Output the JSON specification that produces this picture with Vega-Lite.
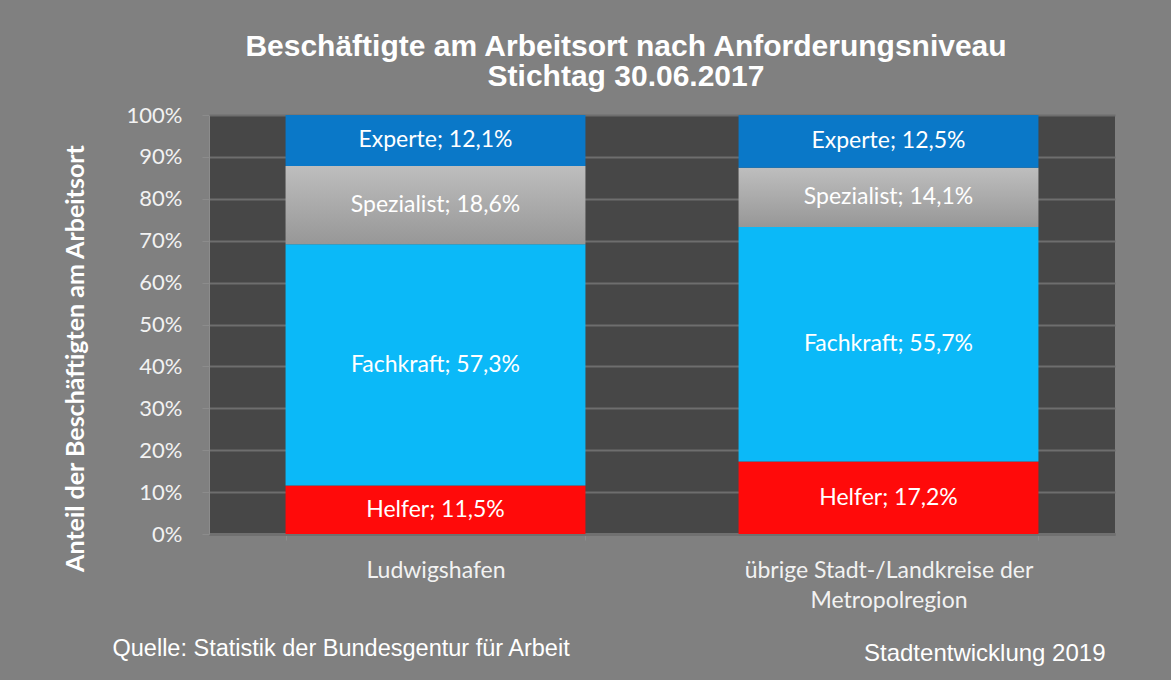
{
  "$schema": "https://vega.github.io/schema/vega-lite/v6.json",
  "width": 906,
  "height": 419,
  "autosize": {"type": "none"},
  "padding": {"left": 209, "top": 115, "right": 56, "bottom": 146},
  "background": "#808080",
  "config": {"view": {"fill": "#474747", "stroke": null}, "font": "Lato"},
  "title": {
    "text": ["Beschäftigte am Arbeitsort nach  Anforderungsniveau", "Stichtag 30.06.2017"],
    "font": "Liberation Sans Narrow, Liberation Sans",
    "fontSize": 30,
    "fontWeight": "bold",
    "color": "white",
    "lineHeight": 30,
    "anchor": "middle",
    "dx": -36,
    "offset": 12
  },
  "data": {
    "values": [
      {"region": "Ludwigshafen", "level": "Helfer", "rank": 1, "value": 11.5, "label": "Helfer; 11,5%"},
      {"region": "Ludwigshafen", "level": "Fachkraft", "rank": 2, "value": 57.3, "label": "Fachkraft; 57,3%"},
      {"region": "Ludwigshafen", "level": "Spezialist", "rank": 3, "value": 18.6, "label": "Spezialist; 18,6%"},
      {"region": "Ludwigshafen", "level": "Experte", "rank": 4, "value": 12.1, "label": "Experte; 12,1%"},
      {"region": "übrige Stadt-/Landkreise der Metropolregion", "level": "Helfer", "rank": 1, "value": 17.2, "label": "Helfer; 17,2%"},
      {"region": "übrige Stadt-/Landkreise der Metropolregion", "level": "Fachkraft", "rank": 2, "value": 55.7, "label": "Fachkraft; 55,7%"},
      {"region": "übrige Stadt-/Landkreise der Metropolregion", "level": "Spezialist", "rank": 3, "value": 14.1, "label": "Spezialist; 14,1%"},
      {"region": "übrige Stadt-/Landkreise der Metropolregion", "level": "Experte", "rank": 4, "value": 12.5, "label": "Experte; 12,5%"}
    ]
  },
  "encoding": {
    "x": {
      "field": "region",
      "type": "nominal",
      "sort": ["Ludwigshafen", "übrige Stadt-/Landkreise der Metropolregion"],
      "scale": {"paddingInner": 0.338, "paddingOuter": 0.169},
      "axis": {
        "title": "Quelle: Statistik der Bundesgentur für Arbeit",
        "titleFont": "Liberation Sans",
        "titleFontSize": 23.5,
        "titleFontWeight": "normal",
        "titleColor": "white",
        "titleX": -97,
        "titleY": 121,
        "titleAlign": "left",
        "titleAnchor": "start",
        "titleBaseline": "alphabetic",
        "labelAngle": 0,
        "labelColor": "#F2F2F2",
        "labelFont": "Lato",
        "labelFontSize": 23,
        "labelPadding": 19,
        "labelLineHeight": 30,
        "labelLimit": 0,
        "labelOverlap": false,
        "labelBaseline": "top",
        "labelExpr": "datum.value == 'Ludwigshafen' ? 'Ludwigshafen' : (datum.value == 'übrige Stadt-/Landkreise der Metropolregion' ? ['übrige Stadt-/Landkreise der', 'Metropolregion'] : '')",
        "domainColor": "#707070",
        "domainWidth": 3,
        "tickBand": "extent",
        "tickColor": "#8c8c8c",
        "tickSize": 6,
        "grid": false
      }
    },
    "y": {
      "field": "value",
      "type": "quantitative",
      "stack": "normalize",
      "scale": {"domain": [0, 1]},
      "axis": {
        "format": ".0%",
        "values": [0, 0.1, 0.2, 0.3, 0.4, 0.5, 0.6, 0.7, 0.8, 0.9, 1],
        "grid": true,
        "gridColor": "#6e6e6e",
        "gridWidth": 2,
        "domainColor": "#8c8c8c",
        "tickColor": "#8c8c8c",
        "tickSize": 7,
        "labelColor": "#F2F2F2",
        "labelFont": "Lato",
        "labelFontSize": 22,
        "labelPadding": 20,
        "title": "Anteil der Beschäftigten am Arbeitsort",
        "titleFont": "Lato",
        "titleFontSize": 25,
        "titleFontWeight": "bold",
        "titleColor": "white",
        "titleX": -134,
        "titleY": 243,
        "titleAngle": 270,
        "titleAlign": "center",
        "titleBaseline": "middle"
      }
    },
    "order": {"field": "rank", "type": "quantitative"}
  },
  "layer": [
    {
      "mark": {"type": "bar"},
      "encoding": {
        "color": {
          "condition": {
            "test": "datum.level === 'Spezialist'",
            "value": {
              "gradient": "linear",
              "x1": 0, "y1": 0, "x2": 0, "y2": 1,
              "stops": [
                {"offset": 0, "color": "#BEBEBE"},
                {"offset": 1, "color": "#979797"}
              ]
            }
          },
          "field": "level",
          "type": "nominal",
          "scale": {
            "domain": ["Helfer", "Fachkraft", "Spezialist", "Experte"],
            "range": ["#FF0A0A", "#0BB9F8", "#AAAAAA", "#0A78C8"]
          },
          "legend": null
        }
      }
    },
    {
      "mark": {"type": "text", "color": "white", "font": "Lato", "fontSize": 23, "align": "center", "baseline": "middle"},
      "encoding": {
        "text": {"field": "label"},
        "detail": {"field": "level"},
        "y": {
          "field": "value",
          "type": "quantitative",
          "stack": "normalize",
          "bandPosition": 0.5,
          "axis": {
            "orient": "right",
            "labels": false,
            "ticks": false,
            "domain": false,
            "grid": false,
            "title": "Stadtentwicklung 2019",
            "titleAngle": 0,
            "titleX": -10,
            "titleY": 545,
            "titleAlign": "right",
            "titleBaseline": "alphabetic",
            "titleFont": "Liberation Sans",
            "titleFontSize": 24,
            "titleFontWeight": "normal",
            "titleColor": "white"
          }
        }
      }
    }
  ],
  "resolve": {"axis": {"y": "independent"}}
}
